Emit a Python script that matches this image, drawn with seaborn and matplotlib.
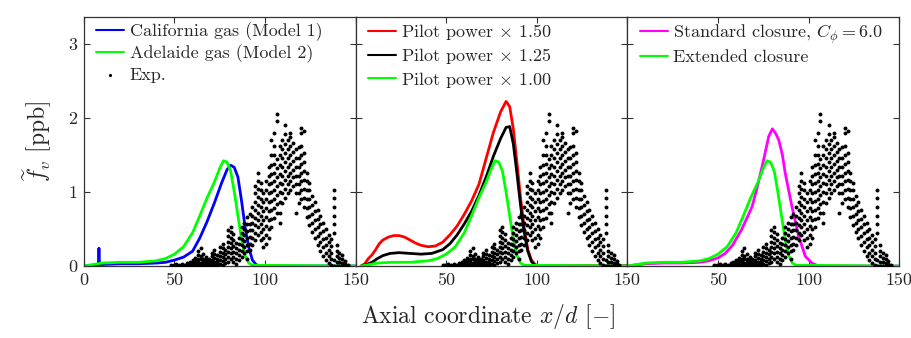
import numpy as np
import pandas as pd
import matplotlib
matplotlib.use("Agg")
import matplotlib.pyplot as plt
import seaborn as sns

# ---------------- data ----------------
blue_x = [0, 8.0, 8.3, 8.6, 10, 20, 30, 40, 45, 50, 55, 60, 64, 68, 72, 76, 79, 81, 83, 85, 87, 89, 91, 93, 95, 97, 150]
blue_y = [0, 0.01, 0.24, 0.01, 0.02, 0.03, 0.03, 0.04, 0.05, 0.08, 0.12, 0.2, 0.38, 0.6, 0.85, 1.12, 1.3, 1.36, 1.33, 1.2, 0.88, 0.52, 0.25, 0.08, 0.02, 0.0, 0.0]

green_x = [0, 5, 10, 20, 30, 40, 45, 50, 55, 60, 64, 68, 72, 75, 77, 79, 81, 83, 85, 87, 89, 91, 93, 150]
green_y = [0, 0.02, 0.04, 0.05, 0.05, 0.07, 0.1, 0.16, 0.26, 0.45, 0.68, 0.92, 1.13, 1.32, 1.42, 1.4, 1.28, 1.0, 0.68, 0.36, 0.14, 0.04, 0.01, 0.0]

red_x = [3, 5, 7, 9, 11, 13, 15, 18, 21, 24, 27, 30, 33, 36, 40, 44, 48, 52, 56, 60, 64, 68, 72, 76, 80, 83, 85, 87, 89, 91, 93, 95, 97, 99, 101, 150]
red_y = [0, 0.03, 0.1, 0.15, 0.22, 0.3, 0.35, 0.39, 0.41, 0.41, 0.39, 0.35, 0.31, 0.28, 0.26, 0.27, 0.32, 0.42, 0.54, 0.7, 0.88, 1.1, 1.45, 1.8, 2.08, 2.22, 2.15, 1.85, 1.4, 0.92, 0.52, 0.22, 0.08, 0.02, 0.0, 0.0]

black_x = [3, 6, 9, 12, 15, 19, 24, 30, 36, 42, 48, 52, 56, 60, 64, 68, 72, 76, 80, 83, 85, 87, 89, 91, 93, 95, 97, 99, 101, 150]
black_y = [0, 0.02, 0.05, 0.1, 0.14, 0.17, 0.18, 0.17, 0.16, 0.17, 0.22, 0.3, 0.42, 0.57, 0.74, 0.95, 1.2, 1.48, 1.72, 1.87, 1.88, 1.65, 1.25, 0.82, 0.45, 0.2, 0.06, 0.01, 0.0, 0.0]

green2_x = [3, 8, 12, 20, 30, 40, 45, 50, 55, 60, 64, 68, 72, 75, 77, 79, 81, 83, 85, 87, 89, 91, 93, 150]
green2_y = [0, 0.02, 0.04, 0.05, 0.05, 0.07, 0.1, 0.16, 0.26, 0.45, 0.68, 0.92, 1.13, 1.32, 1.42, 1.4, 1.28, 1.0, 0.68, 0.36, 0.14, 0.04, 0.01, 0.0]

mag_x = [0, 10, 20, 30, 40, 45, 50, 54, 58, 63, 68.8, 72, 74.3, 78, 80, 82, 83.5, 85.5, 87.1, 90.8, 94.5, 98.2, 101.8, 105.5, 150]
mag_y = [0, 0.03, 0.04, 0.04, 0.05, 0.07, 0.11, 0.17, 0.28, 0.49, 0.8, 1.1, 1.34, 1.75, 1.85, 1.78, 1.7, 1.5, 1.25, 0.8, 0.4, 0.13, 0.04, 0.0, 0.0]

exp_x = [48.0, 49.5, 51.0, 52.5, 54.0, 55.5, 57.0, 58.5, 60.0, 61.5, 63.0, 64.5, 66.0, 67.5,
         69.0, 70.5, 72.0, 73.5, 75.0, 76.5, 78.0, 79.5, 81.0, 82.5, 84.0, 85.5, 87.0, 88.5,
         90.0, 91.5, 93.0, 94.5, 96.0, 97.5, 99.0, 100.5, 102.0, 103.5, 105.0, 106.5, 108.0,
         109.5, 111.0, 112.5, 114.0, 115.5, 117.0, 118.5, 120.0, 121.5, 123.0, 124.5, 126.0,
         127.5, 129.0, 130.5, 132.0, 133.5, 135.0, 136.5, 138.0, 139.5, 141.0, 142.5, 144.0, 145.5]
exp_y = [
    [0.0, 0.01], [0.0, 0.02], [0.0, 0.01, 0.03], [0.0, 0.02], [0.0, 0.01, 0.03], [0.0, 0.02],
    [0.0, 0.01, 0.04], [0.0, 0.02, 0.05], [0.01, 0.04, 0.08], [0.0, 0.03, 0.07, 0.11],
    [0.02, 0.06, 0.1, 0.15, 0.2], [0.0, 0.04, 0.09, 0.14, 0.24], [0.01, 0.05, 0.1, 0.16],
    [0.0, 0.04, 0.08, 0.12], [0.01, 0.05, 0.09], [0.0, 0.04, 0.08, 0.13, 0.17],
    [0.02, 0.06, 0.11, 0.16, 0.21], [0.01, 0.05, 0.1, 0.15], [0.03, 0.08, 0.13, 0.19, 0.25],
    [0.02, 0.07, 0.12, 0.18, 0.24, 0.3], [0.04, 0.1, 0.16, 0.22],
    [0.06, 0.12, 0.19, 0.26, 0.33, 0.4, 0.48], [0.1, 0.17, 0.24, 0.31, 0.38, 0.46, 0.53],
    [0.05, 0.12, 0.19, 0.27, 0.35, 0.43], [0.03, 0.1, 0.17, 0.24, 0.31],
    [0.08, 0.15, 0.22, 0.3, 0.38], [0.12, 0.2, 0.28, 0.36, 0.44, 0.52],
    [0.18, 0.26, 0.34, 0.42, 0.5, 0.58], [0.1, 0.2, 0.29, 0.38, 0.47, 0.56, 0.66],
    [0.22, 0.3, 0.39, 0.48, 0.57, 0.7], [0.28, 0.38, 0.48, 0.58, 0.68, 0.8],
    [0.35, 0.45, 0.55, 0.65, 0.75, 0.86, 0.98, 1.08],
    [0.42, 0.52, 0.62, 0.72, 0.82, 0.93, 1.04, 1.15, 1.26],
    [0.35, 0.46, 0.57, 0.68, 0.79, 0.9, 1.02, 1.12],
    [0.26, 0.38, 0.5, 0.62, 0.74, 0.86, 0.98],
    [0.3, 0.42, 0.54, 0.66, 0.78, 0.9, 1.02, 1.14],
    [0.38, 0.5, 0.62, 0.74, 0.86, 0.98, 1.1, 1.22, 1.34],
    [0.52, 0.64, 0.76, 0.88, 1.0, 1.12, 1.24, 1.36, 1.5, 1.7],
    [0.65, 0.78, 0.9, 1.02, 1.14, 1.26, 1.38, 1.5, 1.62, 1.8],
    [0.72, 0.84, 0.96, 1.08, 1.2, 1.32, 1.45, 1.95, 2.05],
    [0.58, 0.72, 0.86, 1.0, 1.12, 1.24, 1.36, 1.5, 1.62],
    [0.85, 0.98, 1.1, 1.22, 1.34, 1.46, 1.58, 1.7],
    [0.92, 1.04, 1.16, 1.28, 1.4, 1.52, 1.64, 1.78, 1.9],
    [0.98, 1.1, 1.22, 1.34, 1.46, 1.58, 1.7],
    [1.02, 1.14, 1.26, 1.38, 1.5, 1.62, 1.74, 1.8],
    [1.08, 1.2, 1.3, 1.42, 1.54, 1.66],
    [0.72, 0.98, 1.1, 1.22, 1.34, 1.46, 1.58],
    [0.85, 0.98, 1.1, 1.22, 1.34, 1.46, 1.6],
    [0.9, 1.02, 1.14, 1.26, 1.38, 1.5, 1.62, 1.8, 1.86],
    [0.8, 0.92, 1.04, 1.16, 1.28, 1.4, 1.52, 1.82],
    [0.66, 0.78, 0.9, 1.02, 1.14, 1.26],
    [0.55, 0.67, 0.79, 0.91, 1.03, 1.12],
    [0.46, 0.58, 0.7, 0.82, 0.94],
    [0.38, 0.5, 0.62, 0.74, 0.86],
    [0.28, 0.4, 0.52, 0.64, 0.76],
    [0.2, 0.32, 0.44, 0.56, 0.68],
    [0.14, 0.25, 0.36, 0.47, 0.58],
    [0.08, 0.18, 0.28, 0.38, 0.5],
    [0.04, 0.13, 0.22, 0.32, 0.42],
    [0.02, 0.1, 0.18, 0.27, 0.36],
    [0.0, 0.08, 0.45, 0.56, 0.68, 0.8, 0.92, 1.02],
    [0.0, 0.06, 0.13, 0.2, 0.28],
    [0.0, 0.05, 0.11, 0.18],
    [0.0, 0.04, 0.09, 0.15],
    [0.0, 0.03, 0.07],
    [0.0, 0.02],
]

labels1 = ["California gas (Model 1)", "Adelaide gas (Model 2)", "Exp."]
labels2 = [r"Pilot power $\times$ 1.50", r"Pilot power $\times$ 1.25", r"Pilot power $\times$ 1.00"]
labels3 = [r"Standard closure, $C_\phi = 6.0$", "Extended closure"]
x_ticks = [0, 50, 100, 150]
y_ticks = [0, 1, 2, 3]

# ---------------- style ----------------
sns.set_theme(style="ticks")
plt.rcParams["font.family"] = ["cmr10", "DejaVu Serif"]
plt.rcParams["mathtext.fontset"] = "cm"
plt.rcParams["axes.formatter.use_mathtext"] = True
plt.rcParams["axes.edgecolor"] = "0.2"
plt.rcParams["axes.linewidth"] = 0.9

exp_df = pd.DataFrame({
    "x": [xv for xv, ys in zip(exp_x, exp_y) for _ in ys],
    "y": [yv for ys in exp_y for yv in ys],
})

fig, axes = plt.subplots(1, 3, sharey=True, figsize=(9.12, 3.38), dpi=100)
fig.subplots_adjust(left=0.092, right=0.986, bottom=0.213, top=0.95, wspace=0)

LW = 2.0
GREEN = "#00FF00"

def draw_exp(ax, label=None):
    sns.scatterplot(data=exp_df, x="x", y="y", ax=ax, color="black", s=8,
                    linewidth=0, label=label, legend=False, zorder=3)

def line(ax, x, y, color, label, z=2):
    sns.lineplot(x=x, y=y, ax=ax, color=color, lw=LW, label=label,
                 estimator=None, sort=False, legend=False, zorder=z)

# panel 1
ax = axes[0]
line(ax, blue_x, blue_y, "#0000FF", labels1[0])
line(ax, green_x, green_y, GREEN, labels1[1], z=2.1)
draw_exp(ax, labels1[2])

# panel 2
ax = axes[1]
line(ax, green2_x, green2_y, GREEN, labels2[2], z=2.2)
line(ax, black_x, black_y, "black", labels2[1], z=2.1)
line(ax, red_x, red_y, "#FF0000", labels2[0], z=2.0)
draw_exp(ax)

# panel 3
ax = axes[2]
line(ax, mag_x, mag_y, "#FF00FF", labels3[0])
line(ax, green_x, green_y, GREEN, labels3[1], z=2.1)
draw_exp(ax)

order = [labels1, labels2, labels3]
for i, ax in enumerate(axes):
    ax.set_xlim(0, 150)
    ax.set_ylim(0, 3.36)
    ax.set_xticks(x_ticks)
    if i == 0:
        ax.set_xticklabels([str(t) for t in x_ticks])
    else:
        ax.set_xticklabels([""] + [str(t) for t in x_ticks[1:]])
    ax.set_yticks(y_ticks)
    ax.tick_params(direction="in", top=True, right=True, length=4, width=0.8,
                   labelsize=13, color="0.2", pad=5)
    ax.set_xlabel("")
    ax.set_ylabel("")
    for sp in ax.spines.values():
        sp.set_visible(True)
    h, l = ax.get_legend_handles_labels()
    hd = dict(zip(l, h))
    hs = [hd[k] for k in order[i]]
    leg = ax.legend(hs, order[i], loc="upper left", bbox_to_anchor=(0.025, 1.0),
                    frameon=False, fontsize=13,
                    handlelength=1.55, handletextpad=0.3, labelspacing=0.2,
                    borderaxespad=0.0, borderpad=0.3, markerscale=0.8)
    for lh in leg.get_lines():
        lh.set_linewidth(1.5)

axes[0].set_yticklabels([str(t) for t in y_ticks])
axes[0].set_ylabel(r"$\widetilde{f}_v$ [ppb]", fontsize=17, labelpad=10)
fig.text(0.535, 0.02, r"Axial coordinate $x/d$ [$-$]", ha="center", va="bottom", fontsize=17)

fig.savefig("out.png", dpi=100)
